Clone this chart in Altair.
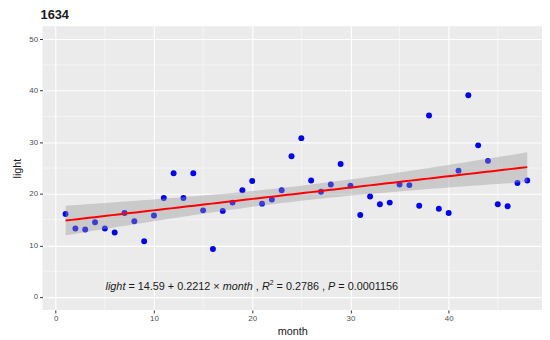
import altair as alt
import pandas as pd
import numpy as np

# ---- data ----
months = list(range(1, 49))
light = [16.1, 13.3, 13.1, 14.5, 13.3, 12.5, 16.3, 14.7, 10.8, 15.8,
         19.2, 24.0, 19.2, 24.0, 16.8, 9.3, 16.7, 18.3, 20.7, 22.5,
         18.1, 18.9, 20.7, 27.3, 30.8, 22.6, 20.4, 21.8, 25.8, 21.6,
         15.9, 19.5, 18.0, 18.3, 21.8, 21.7, 17.7, 35.2, 17.1, 16.3,
         24.5, 39.1, 29.4, 26.4, 18.0, 17.6, 22.1, 22.6]
x_ticks = [0, 10, 20, 30, 40]
y_ticks = [0, 10, 20, 30, 40, 50]
minor_x = [5, 15, 25, 35, 45]
minor_y = [5, 15, 25, 35, 45]
title_text = "1634"
anno_segments = [("light", "italic"), (" = 14.59 + 0.2212 \u00d7 ", "normal"),
                 ("month", "italic"), (" , ", "normal"), ("R", "italic"),
                 ("2", "sup"), (" = 0.2786 , ", "normal"), ("P", "italic"),
                 (" = 0.0001156", "normal")]
anno_at = {"month": [20], "light": [2]}

df = pd.DataFrame({"month": months, "light": light})

# ---- linear fit with 95% confidence band ----
x = np.array(months, dtype=float)
y = np.array(light, dtype=float)
n = len(x)
slope, intercept = np.polyfit(x, y, 1)
resid = y - (intercept + slope * x)
s = np.sqrt(np.sum(resid ** 2) / (n - 2))
sxx = np.sum((x - x.mean()) ** 2)
tval = 2.0129
gx = np.linspace(x.min(), x.max(), 80)
gy = intercept + slope * gx
se = s * np.sqrt(1.0 / n + (gx - x.mean()) ** 2 / sxx)
fit = pd.DataFrame({"month": gx, "light": gy, "lo": gy - tval * se, "hi": gy + tval * se})

FONT = "Liberation Sans"
xs = alt.Scale(domain=[-1.35, 49.5], nice=False, zero=False)
ys = alt.Scale(domain=[-2.5, 52.5], nice=False, zero=False)
xaxis = alt.Axis(values=x_ticks, title="month", grid=True, labelPadding=2, titlePadding=3)
yaxis = alt.Axis(values=y_ticks, title="light", grid=True, labelPadding=2, titlePadding=6)


def X(field):
    return alt.X(field, type="quantitative", scale=xs, axis=xaxis)


def Y(field):
    return alt.Y(field, type="quantitative", scale=ys, axis=yaxis)


minor_v = alt.Chart(pd.DataFrame({"month": minor_x})).mark_rule(
    color="white", strokeWidth=0.5).encode(x=X("month"))
minor_h = alt.Chart(pd.DataFrame({"light": minor_y})).mark_rule(
    color="white", strokeWidth=0.5).encode(y=Y("light"))

points = alt.Chart(df).mark_circle(size=36, color="#0000FF", opacity=1).encode(
    x=X("month"), y=Y("light"))

band = alt.Chart(fit).mark_area(color="#999999", opacity=0.4).encode(
    x=X("month"), y=Y("lo"), y2="hi")

line = alt.Chart(fit).mark_line(color="#FF0000", strokeWidth=2).encode(
    x=X("month"), y=Y("light"))

# ---- annotation built from text metrics (Arial / Liberation Sans widths) ----
W = {" ": 278, "=": 584, "+": 584, "\u00d7": 584, ".": 278, ",": 278,
     "l": 222, "i": 222, "g": 556, "h": 556, "t": 278, "m": 833, "o": 556,
     "n": 556, "R": 722, "P": 667}
FS = 11
SUP = 7


def width(txt, size):
    return sum(W.get(c, 556) for c in txt) / 1000.0 * size


total = sum(width(t, SUP if st == "sup" else FS) for t, st in anno_segments)
anno_df = pd.DataFrame(anno_at)
layers_txt = []
off = -total / 2.0
for t, st in anno_segments:
    size = SUP if st == "sup" else FS
    lead = len(t) - len(t.lstrip(" "))
    layers_txt.append(
        alt.Chart(anno_df).mark_text(
            text=t.strip(" "), align="left", baseline="middle",
            dx=off + width(" " * lead, size),
            dy=-4 if st == "sup" else 0,
            fontSize=size, font=FONT,
            fontStyle="italic" if st == "italic" else "normal",
            color="#1a1a1a"
        ).encode(x=X("month"), y=Y("light"))
    )
    off += width(t, size)

chart = alt.layer(minor_v, minor_h, points, band, line, *layers_txt).properties(
    width=507, height=288,
    autosize=alt.AutoSizeParams(type="none"),
    padding={"left": 35, "top": 16, "right": 0, "bottom": 24},
    background="white",
    title=alt.TitleParams(title_text, anchor="start", frame="group", fontSize=13,
                          fontWeight="bold", font=FONT, color="#1a1a1a",
                          offset=6, baseline="alphabetic", dx=-2, dy=12),
).configure_view(fill="#EBEBEB", strokeWidth=0).configure_axis(
    domain=False, tickColor="#333333", tickSize=3, tickWidth=1,
    labelColor="#4D4D4D", labelFontSize=8, labelFont=FONT,
    titleFont=FONT, titleFontSize=11, titleColor="#1a1a1a", titleFontWeight="normal",
    gridColor="white", gridWidth=1.1,
)

chart.save("out.html", embed_options={"renderer": "svg", "actions": False})
